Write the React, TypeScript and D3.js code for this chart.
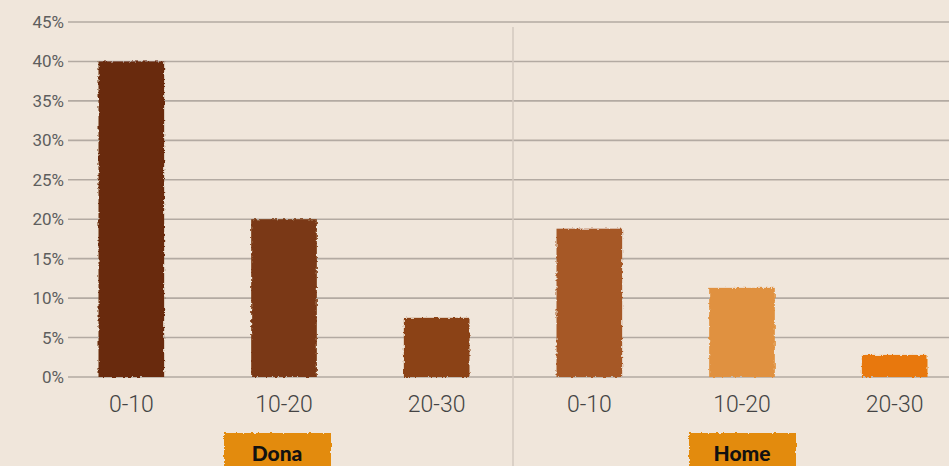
import React, { useEffect, useRef } from 'react';
import * as d3 from 'd3';

// Dades llegides de la imatge
const groups = ['Dona', 'Home'];
const ageBands = ['0-10', '10-20', '20-30'];
const donaValues = [40, 20, 7.5];
const homeValues = [18.8, 11.3, 2.8];
const yTicks = [0, 5, 10, 15, 20, 25, 30, 35, 40, 45];
const barColors = ['#692b0d', '#7a3812', '#8b4317', '#a65826', '#e0913f', '#e8780c'];

const App: React.FC = () => {
  const svgRef = useRef<SVGSVGElement>(null);

  useEffect(() => {
    const width = 949;
    const height = 466;

    const svg = d3.select(svgRef.current)
      .attr('width', width)
      .attr('height', height);
    svg.selectAll('*').remove();

    // Filtre per donar vora irregular tipus aquarel·la
    const defs = svg.append('defs');
    const rough = defs.append('filter').attr('id', 'rough')
      .attr('x', '-5%').attr('y', '-5%').attr('width', '110%').attr('height', '110%');
    rough.append('feTurbulence').attr('type', 'fractalNoise')
      .attr('baseFrequency', 0.35).attr('numOctaves', 2).attr('seed', 3).attr('result', 'noise');
    rough.append('feDisplacementMap').attr('in', 'SourceGraphic').attr('in2', 'noise')
      .attr('scale', 3.5).attr('xChannelSelector', 'R').attr('yChannelSelector', 'G');

    svg.append('rect')
      .attr('width', width).attr('height', height)
      .attr('fill', '#f0e6db');

    const data = groups.flatMap((g, gi) =>
      ageBands.map((b, bi) => ({
        key: `${g}-${b}`,
        group: g,
        band: b,
        value: (gi === 0 ? donaValues : homeValues)[bi],
      }))
    );

    const x = d3.scaleBand<string>()
      .domain(data.map(d => d.key))
      .range([55, 971])
      .paddingInner(0.57)
      .paddingOuter(0.285);

    const y = d3.scaleLinear()
      .domain([0, 45])
      .range([377, 22]);

    // Línies de la graella
    svg.append('g')
      .selectAll('line')
      .data(yTicks)
      .enter().append('line')
      .attr('x1', 68).attr('x2', width)
      .attr('y1', d => y(d)).attr('y2', d => y(d))
      .attr('stroke', '#b3aaa2')
      .attr('stroke-width', 1.6);

    // Etiquetes eix Y
    svg.append('g')
      .selectAll('text')
      .data(yTicks)
      .enter().append('text')
      .attr('x', 64)
      .attr('y', d => y(d))
      .attr('dy', '0.35em')
      .attr('text-anchor', 'end')
      .attr('font-family', 'Roboto, sans-serif')
      .attr('font-size', 17)
      .attr('fill', '#5e5e5e')
      .text(d => `${d}%`);

    // Separador entre grups
    const sepX = (x(`Dona-20-30`)! + x.bandwidth() + x(`Home-0-10`)!) / 2;
    svg.append('line')
      .attr('x1', sepX).attr('x2', sepX)
      .attr('y1', 27).attr('y2', height)
      .attr('stroke', '#d3c9bf')
      .attr('stroke-width', 1.5);

    // Barres
    svg.append('g')
      .attr('filter', 'url(#rough)')
      .selectAll('rect')
      .data(data)
      .enter().append('rect')
      .attr('x', d => x(d.key)!)
      .attr('y', d => y(d.value))
      .attr('width', x.bandwidth())
      .attr('height', d => y(0) - y(d.value))
      .attr('fill', (d, i) => barColors[i]);

    // Etiquetes de franja d'edat
    svg.append('g')
      .selectAll('text')
      .data(data)
      .enter().append('text')
      .attr('x', d => x(d.key)! + x.bandwidth() / 2)
      .attr('y', 412)
      .attr('text-anchor', 'middle')
      .attr('font-family', 'Roboto, sans-serif')
      .attr('font-weight', 300)
      .attr('font-size', 23)
      .attr('fill', '#444')
      .text(d => d.band);

    // Etiquetes de grup
    const groupG = svg.append('g')
      .selectAll('g')
      .data(groups)
      .enter().append('g')
      .attr('transform', g => {
        const cx = x(`${g}-10-20`)! + x.bandwidth() / 2 - (g === 'Dona' ? 7 : 0);
        return `translate(${cx},0)`;
      });

    groupG.append('rect')
      .attr('x', -53).attr('y', 433)
      .attr('width', 107).attr('height', 40)
      .attr('fill', '#e38b0e')
      .attr('filter', 'url(#rough)');

    groupG.append('text')
      .attr('x', 0).attr('y', 461)
      .attr('text-anchor', 'middle')
      .attr('font-family', 'Lato, sans-serif')
      .attr('font-weight', 900)
      .attr('font-size', 21)
      .attr('fill', '#111')
      .text(g => g);
  }, []);

  return (
    <svg ref={svgRef} style={{ position: 'absolute', left: 0, top: 0 }}></svg>
  );
};

export default App;
